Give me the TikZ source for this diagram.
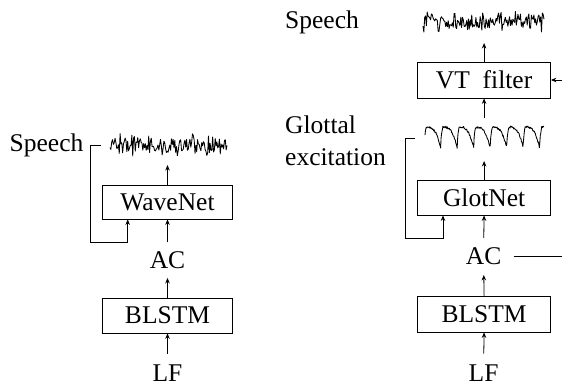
\documentclass[tikz,border=0pt]{standalone}
\usepackage{fontspec}
\setmainfont{Liberation Serif}
\usetikzlibrary{arrows.meta}
\begin{document}
\begin{tikzpicture}[x=1pt,y=-1pt,
  lbl/.style={font=\fontsize{25.5}{30}\selectfont, inner sep=0pt},
  box/.style={draw, line width=0.8pt, inner sep=0pt, font=\fontsize{25.5}{30}\selectfont},
  arr/.style={-{Stealth[length=5.5pt,width=4.5pt]}, line width=0.8pt},
  ln/.style={line width=0.8pt},
  wav/.style={line width=0.85pt, line join=round},
  anchorbox/.style={inner sep=0pt, outer sep=0pt},
  declare function={
    sph(\t)=mod(\t,14.6)/14.6;
    spr(\t)=(5.5+7*exp(-2*sph(\t)))*rand + 4*exp(-3*sph(\t))*sin(1100*sph(\t));
    sp(\t)=max(-12,min(12,spr(\t)));
    gph(\t)=mod(\t,16.5)/16.5;
    glo(\t)=(gph(\t)<0.12) ? sqrt(gph(\t)/0.12) : 1-((gph(\t)-0.12)/0.88)^3;
  }]
\useasboundingbox (0,0) rectangle (562,386);
\pgfmathsetseed{3}

% ---------- left column ----------
\node[lbl, anchor=base west] (spL) at (9.5,151) {Speech};
\node[anchorbox, minimum width=118pt, minimum height=40pt] (waveL) at (168,145) {};
\draw[wav] plot[domain=110:227, samples=140] (\x, {145+sp(\x)});
\node[box, minimum width=129.6pt, minimum height=34pt] (wn) at (167.5,202) {WaveNet};
\node[lbl, anchor=base] (acL) at (167.5,268.5) {AC};
\node[box, minimum width=129.6pt, minimum height=35pt] (blL) at (167.5,315.5) {BLSTM};
\node[lbl, anchor=base] (lfL) at (167.5,381) {LF};
\coordinate (tkL) at (100.7,145);

\draw[arr] (wn.north) -- (wn.north |- waveL.south);
\draw[arr, shorten <=9pt] (acL.north) -- (wn.south);
\draw[arr, shorten >=9pt] (blL.north) -- (acL.south);
\draw[arr, shorten <=10.5pt] (lfL.north) -- (blL.south);
\draw[arr] (tkL) -- ++(-10.7,0) -- ++(0,97.7) -| ([xshift=-39.8pt]wn.south);

% ---------- right column ----------
\node[lbl, anchor=base west] (spR) at (285,28) {Speech};
\node[anchorbox, minimum width=121pt, minimum height=43pt] (waveR) at (484,21.5) {};
\draw[wav] plot[domain=423:544, samples=145] (\x, {21.5+sp(\x)});
\node[box, minimum width=132.8pt, minimum height=36pt] (vt) at (484.1,80) {VT\hspace{0.25em} filter};
\coordinate (inR) at (562,80);
\node[lbl, anchor=base west] (glA) at (285,133) {Glottal};
\node[lbl, anchor=base west] (glB) at (285,165) {excitation};
\node[anchorbox, minimum width=120pt, minimum height=43pt] (glW) at (484.1,139.5) {};
\draw[wav] plot[domain=425:544, samples=260] (\x, {148-21*glo(\x-424.2)+1.1*rand});
\node[box, minimum width=132.8pt, minimum height=35pt] (gn) at (484.1,197.5) {GlotNet};
\node[lbl, anchor=base] (acR) at (483.6,264.5) {AC};
\node[box, minimum width=132.8pt, minimum height=36pt] (blR) at (484.1,314) {BLSTM};
\node[lbl, anchor=base] (lfR) at (483.6,381) {LF};
\coordinate (tkR) at (415,138.3);
\coordinate (acOut) at (562,256);

\draw[arr] (vt.north) -- (vt.north |- waveR.south);
\draw[arr] (inR) -- (vt.east);
\draw[arr] (vt.south |- glW.north) -- (vt.south);
\draw[arr] (gn.north) -- (gn.north |- glW.south);
\draw[arr] (tkR) -- ++(-10,0) -- ++(0,99.7) -| ([xshift=-41.1pt]gn.south);
\draw[arr, shorten <=9.5pt] (acR.north) -- (gn.south);
\draw[arr, shorten >=10pt] (blR.north) -- (acR.south);
\draw[arr, shorten <=10.5pt] (lfR.north) -- (blR.south);
\draw[ln, shorten <=12pt] (acR.east) -- (acR.east -| acOut);
\end{tikzpicture}
\end{document}
